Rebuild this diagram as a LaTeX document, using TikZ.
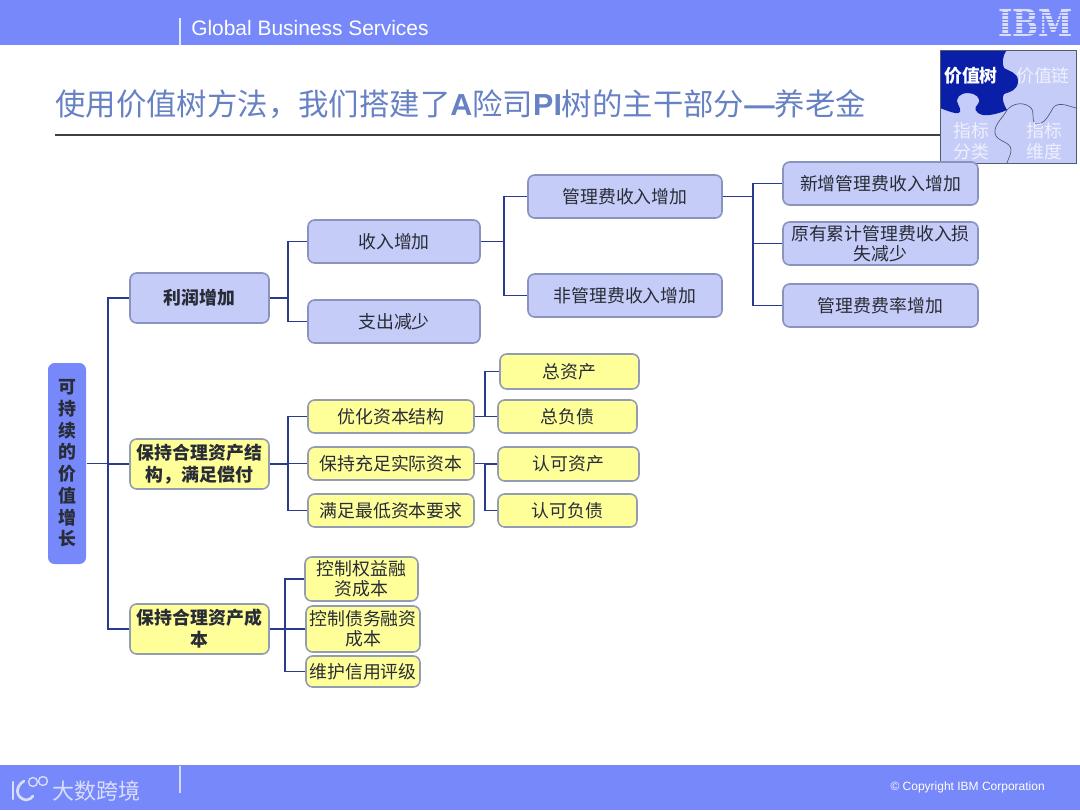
\documentclass[tikz,border=0pt]{standalone}
\usepackage{fontspec}
\setmainfont{Noto Sans CJK SC}
\newfontfamily\latinf{Liberation Sans}
\newfontfamily\logof{DejaVu Serif}
\definecolor{hdr}{HTML}{7688FA}
\definecolor{bluefill}{HTML}{C6CCF8}
\definecolor{blueedge}{HTML}{8A92BE}
\definecolor{yelfill}{HTML}{FFFF99}
\definecolor{yeledge}{HTML}{939CB0}
\definecolor{wire}{HTML}{2B3A8E}
\definecolor{titlec}{HTML}{6682C4}
\definecolor{navy}{HTML}{0A1FA8}
\definecolor{ink}{HTML}{282C36}
\definecolor{pzedge}{HTML}{505A70}
\tikzset{
  x=0.75pt,y=-0.75pt,
  boxbase/.style={rounded corners=5pt,line width=1.2pt,inner sep=0pt,align=center,text=ink,font=\fontsize{13.4}{15.2}\selectfont},
  bluebox/.style={boxbase,draw=blueedge,fill=bluefill},
  yelbox/.style={boxbase,draw=yeledge,fill=yelfill},
  strong/.style={font=\fontsize{13.4}{16.5}\selectfont\bfseries},
  rootbox/.style={boxbase,draw=none,fill=hdr,font=\fontsize{13.4}{16.3}\selectfont\bfseries,text=ink},
  conn/.style={draw=wire,line width=1.35pt,line join=miter},
  band/.style={fill=hdr,draw=none},
  pz/.style={font=\fontsize{13.4}{15.5}\selectfont,inner sep=0pt,align=center},
}
\newcommand{\bx}[7]{\node[#6,minimum width={(#4-#2)*0.75pt},minimum height={(#5-#3)*0.75pt}] (#1) at ({(#2+#4)/2},{(#3+#5)/2}) {#7};}
\newcommand{\elbow}[3]{\draw[conn] (#1.east) -- (#1.east -| #2) |- (#3.west);}
\begin{document}
\begin{tikzpicture}
\useasboundingbox (0,0) rectangle (1080,810);
\fill[white] (0,0) rectangle (1080,810);
% bands
\fill[band] (0,0) rectangle (1080,45);
\fill[band] (0,765) rectangle (1080,810);
\draw[white!80!hdr,line width=0.9pt] (180,18) -- (180,45);
\draw[white!70!hdr,line width=0.9pt] (180,766) -- (180,793);
\node[anchor=west,inner sep=0pt,text=white,font=\latinf\fontsize{15.7}{18}\selectfont] (svc) at (191,28) {Global Business Services};
% IBM logo
\node[inner sep=0pt,text=white!72!hdr,font=\logof\fontsize{23.2}{24}\selectfont\bfseries,yscale=1.2,transform shape] (ibm) at (1035.5,23) {IBM};
\foreach \yy in {11.5,15,18.5,22,25.5,29,32.5}{\fill[hdr] (995,\yy) rectangle (1076,\yy+1.1);}
% title
\node[anchor=west,inner sep=0pt,text=titlec,font=\fontsize{22.8}{26}\selectfont] (title) at (55,104) {使用价值树方法，我们搭建了{\latinf\bfseries A}险司{\latinf\bfseries PI}树的主干部分{\latinf\bfseries —}养老金};
\coordinate (ruleL) at (55,135);
\coordinate (ruleR) at (940,135);
\draw[draw=black!75,line width=0.9pt] (ruleL) -- (ruleR);
% puzzle
\fill[bluefill] (940,50) rectangle (1076,163);
\fill[navy] (940,50) -- (1007,50)
  .. controls (1002,56) and (1002,64) .. (1004,68)
  .. controls (1008,71) and (1018,72) .. (1018,81)
  .. controls (1018,90) and (1010,92) .. (1004,94)
  .. controls (1001,98) and (1004,105) .. (1007,110)
  .. controls (1000,113) and (990,116) .. (983,115)
  .. controls (975,113) and (973,108) .. (978,104)
  .. controls (982,98) and (975,93) .. (968,93)
  .. controls (960,93) and (955,98) .. (958,104)
  .. controls (961,110) and (962,114) .. (955,113)
  .. controls (950,112) and (945,110) .. (940,108) -- cycle;
\draw[pzedge,line width=0.5pt] (1007,110)
  .. controls (1012,104) and (1022,101) .. (1030,107)
  .. controls (1036,112) and (1030,120) .. (1036,124)
  .. controls (1044,125) and (1049,115) .. (1053,108)
  .. controls (1058,101) and (1068,106) .. (1076,108);
\draw[pzedge,line width=0.5pt] (1007,110)
  .. controls (1003,118) and (994,124) .. (995,133)
  .. controls (996,142) and (1011,141) .. (1011,150)
  .. controls (1011,155) and (1008,159) .. (1007,163);
\draw[draw=pzedge,line width=0.7pt] (940,50) rectangle (1076,163);
\node[pz,text=white,font=\fontsize{13.4}{15.5}\selectfont\bfseries] (p1) at (971,76) {价值树};
\node[pz,text=white!70!bluefill] (p2) at (1043,76) {价值链};
\node[pz,text=white!70!bluefill] (p3) at (971,141) {指标\\分类};
\node[pz,text=white!70!bluefill] (p4) at (1044,141) {指标\\维度};
% boxes
\bx{root}{48}{363}{86}{564}{rootbox}{可\\持\\续\\的\\价\\值\\增\\长}
\bx{profit}{130}{273}{269}{323}{bluebox,strong}{利润增加}
\bx{asset}{130}{439}{269}{489}{yelbox,strong}{保持合理资产结\\构，满足偿付}
\bx{cost}{130}{604}{269}{654}{yelbox,strong}{保持合理资产成\\本}
\bx{inc}{308}{220}{480}{263}{bluebox}{收入增加}
\bx{exp}{308}{300}{480}{343}{bluebox}{支出减少}
\bx{fee}{528}{175}{722}{218}{bluebox}{管理费收入增加}
\bx{nonfee}{528}{274}{722}{317}{bluebox}{非管理费收入增加}
\bx{newfee}{783}{162}{978}{205}{bluebox}{新增管理费收入增加}
\bx{oldfee}{783}{222}{978}{265}{bluebox}{原有累计管理费收入损\\失减少}
\bx{rate}{783}{284}{978}{327}{bluebox}{管理费费率增加}
\bx{opt}{308}{400}{474}{433}{yelbox}{优化资本结构}
\bx{keep}{308}{447}{474}{480}{yelbox}{保持充足实际资本}
\bx{minc}{308}{494}{474}{527}{yelbox}{满足最低资本要求}
\bx{ta}{500}{354}{639}{389}{yelbox}{总资产}
\bx{tl}{498}{400}{637}{433}{yelbox}{总负债}
\bx{aa}{498}{447}{639}{481}{yelbox}{认可资产}
\bx{al}{498}{494}{637}{527}{yelbox}{认可负债}
\bx{eq}{305}{557}{418}{601}{yelbox}{控制权益融\\资成本}
\bx{debt}{306}{606}{420}{652}{yelbox}{控制债务融资\\成本}
\bx{credit}{306}{656}{420}{687}{yelbox}{维护信用评级}
% buses
\coordinate (b1) at (108,0);
\coordinate (b2) at (288,0);
\coordinate (b3) at (504,0);
\coordinate (b4) at (753,0);
\coordinate (b5) at (485,0);
\coordinate (b6) at (285,0);
\elbow{root}{b1}{profit}
\elbow{root}{b1}{asset}
\elbow{root}{b1}{cost}
\elbow{profit}{b2}{inc}
\elbow{profit}{b2}{exp}
\elbow{inc}{b3}{fee}
\elbow{inc}{b3}{nonfee}
\elbow{fee}{b4}{newfee}
\elbow{fee}{b4}{oldfee}
\elbow{fee}{b4}{rate}
\elbow{asset}{b2}{opt}
\elbow{asset}{b2}{keep}
\elbow{asset}{b2}{minc}
\elbow{opt}{b5}{ta}
\elbow{opt}{b5}{tl}
\elbow{keep}{b5}{aa}
\elbow{keep}{b5}{al}
\elbow{cost}{b6}{eq}
\elbow{cost}{b6}{debt}
\elbow{cost}{b6}{credit}
% footer
\node[anchor=east,inner sep=0pt,text=white,font=\latinf\fontsize{9}{10}\selectfont] (copy) at (1045,787) {© Copyright IBM Corporation};
\draw[white!72!hdr,line width=2pt,line cap=round] (13,782) -- (13,799);
\draw[white!72!hdr,line width=2pt,line cap=round] (24,781) .. controls (15,786) and (15,798) .. (26,800) .. controls (29,800) and (32,798) .. (33,796);
\draw[white!72!hdr,line width=1pt] (33,782) circle (4.5);
\draw[white!72!hdr,line width=1pt] (43,781) circle (4.5);
\node[anchor=west,inner sep=0pt,text=white!72!hdr,font=\fontsize{16.5}{18}\selectfont] (wm) at (52,791) {大数跨境};
\end{tikzpicture}
\end{document}
